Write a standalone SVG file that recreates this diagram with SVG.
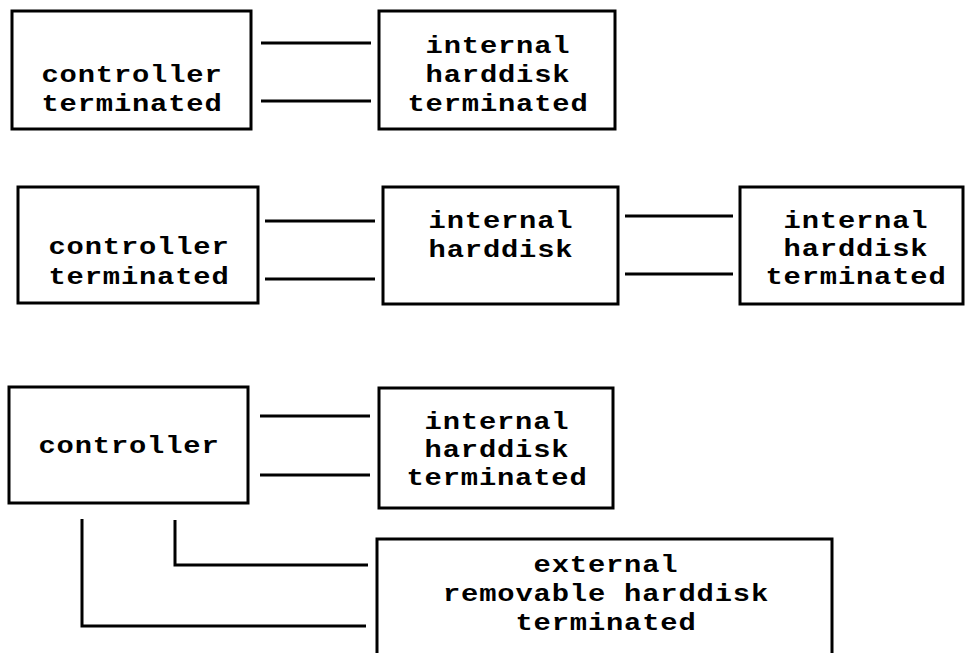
<svg xmlns="http://www.w3.org/2000/svg" width="966" height="653" viewBox="0 0 966 653">
  <style>
    .box { fill: #fff; stroke: #000; stroke-width: 3; }
    .wire { fill: none; stroke: #000; stroke-width: 3; stroke-linecap: butt; stroke-linejoin: miter; }
    /* wide bold monospace: glyphs stretched horizontally by the per-text transform */
    .lbl { font-family: "Liberation Mono", "DejaVu Sans Mono", monospace; font-weight: bold; font-size: 24px; letter-spacing: 0.7px; text-anchor: middle; fill: #000; }
  </style>
  <rect width="966" height="653" fill="#fff"/>

  <!-- connectors -->
  <g id="connectors">
    <line class="wire" x1="261" y1="43" x2="371" y2="43"/>
    <line class="wire" x1="261" y1="101" x2="371" y2="101"/>
    <line class="wire" x1="265" y1="221" x2="375" y2="221"/>
    <line class="wire" x1="265" y1="279" x2="375" y2="279"/>
    <line class="wire" x1="625" y1="216" x2="733" y2="216"/>
    <line class="wire" x1="625" y1="274" x2="733" y2="274"/>
    <line class="wire" x1="260" y1="416" x2="370" y2="416"/>
    <line class="wire" x1="260" y1="475" x2="370" y2="475"/>
    <path class="wire" d="M175 520 V565 H368"/>
    <path class="wire" d="M82 519 V626 H366"/>
  </g>

  <!-- row 1 -->
  <g id="ctrl-term-1">
    <rect class="box" x="12" y="11" width="239" height="118"/>
    <text class="lbl" transform="translate(132 82) scale(1.2 1)">controller</text>
    <text class="lbl" transform="translate(132 111) scale(1.2 1)">terminated</text>
  </g>
  <g id="int-hd-term-1">
    <rect class="box" x="379" y="11" width="236" height="118"/>
    <text class="lbl" transform="translate(498 53) scale(1.2 1)">internal</text>
    <text class="lbl" transform="translate(498 82) scale(1.2 1)">harddisk</text>
    <text class="lbl" transform="translate(498 111) scale(1.2 1)">terminated</text>
  </g>

  <!-- row 2 -->
  <g id="ctrl-term-2">
    <rect class="box" x="18" y="187" width="240" height="116"/>
    <text class="lbl" transform="translate(139 254) scale(1.2 1)">controller</text>
    <text class="lbl" transform="translate(139 284) scale(1.2 1)">terminated</text>
  </g>
  <g id="int-hd-2">
    <rect class="box" x="383" y="187" width="235" height="117"/>
    <text class="lbl" transform="translate(501 228) scale(1.2 1)">internal</text>
    <text class="lbl" transform="translate(501 257) scale(1.2 1)">harddisk</text>
  </g>
  <g id="int-hd-term-2">
    <rect class="box" x="740" y="187" width="223" height="117"/>
    <text class="lbl" transform="translate(856 228) scale(1.2 1)">internal</text>
    <text class="lbl" transform="translate(856 256) scale(1.2 1)">harddisk</text>
    <text class="lbl" transform="translate(856 284) scale(1.2 1)">terminated</text>
  </g>

  <!-- row 3 -->
  <g id="ctrl-3">
    <rect class="box" x="9" y="387" width="239" height="116"/>
    <text class="lbl" transform="translate(129 453) scale(1.2 1)">controller</text>
  </g>
  <g id="int-hd-term-3">
    <rect class="box" x="379" y="388" width="234" height="120"/>
    <text class="lbl" transform="translate(497 429) scale(1.2 1)">internal</text>
    <text class="lbl" transform="translate(497 457) scale(1.2 1)">harddisk</text>
    <text class="lbl" transform="translate(497 485) scale(1.2 1)">terminated</text>
  </g>
  <g id="ext-rem-hd-term">
    <rect class="box" x="377" y="539" width="455" height="130"/>
    <text class="lbl" transform="translate(606 572) scale(1.2 1)">external</text>
    <text class="lbl" transform="translate(606 601) scale(1.2 1)">removable harddisk</text>
    <text class="lbl" transform="translate(606 630) scale(1.2 1)">terminated</text>
  </g>
</svg>
